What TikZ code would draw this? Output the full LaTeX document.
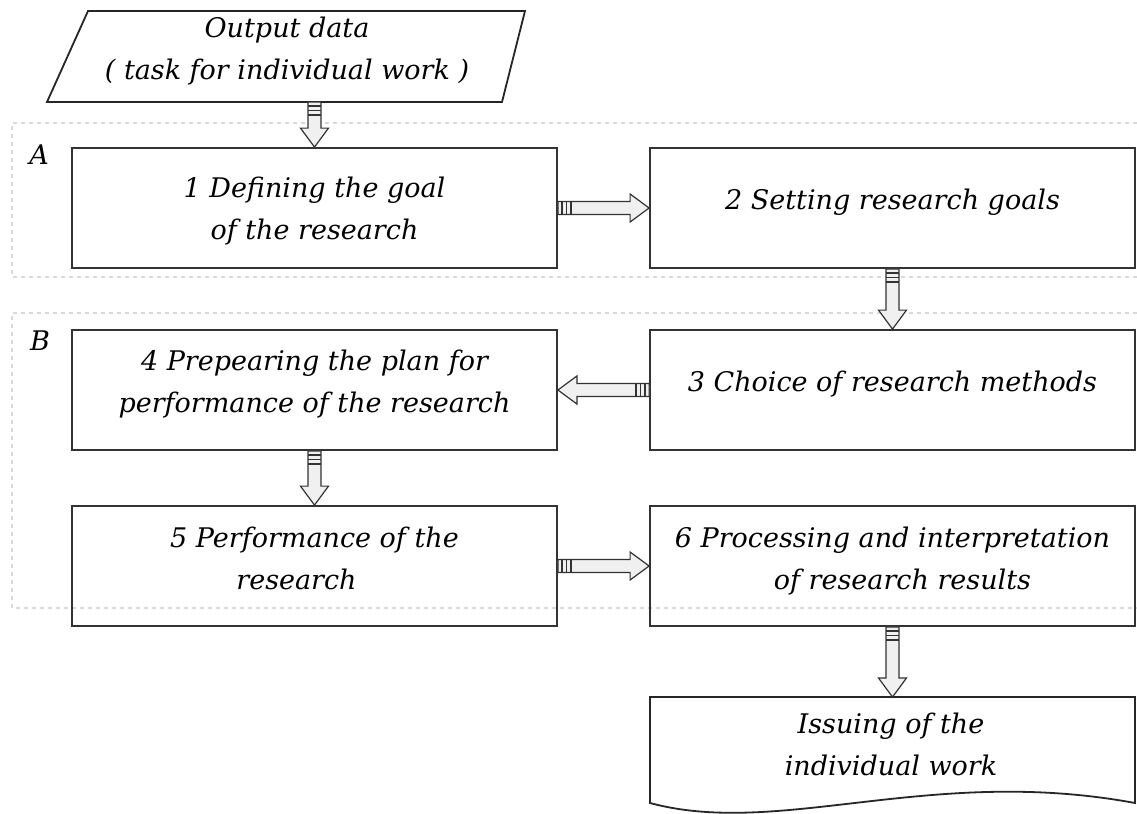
\documentclass[tikz,border=0pt]{standalone}
\usepackage{fontspec}
\setmainfont{DejaVu Serif}
\usetikzlibrary{calc}
\tikzset{
  box/.style={draw=black!80, line width=0.9pt, minimum width=242.5pt, minimum height=60pt, inner sep=0pt},
  txt/.style={font=\fontsize{13.5}{21}\selectfont\itshape, align=center, inner sep=0pt},
  grp/.style={draw=black!15, line width=0.6pt, dash pattern=on 2pt off 2pt},
  blk/.style={draw=black!80, fill=black!6, line width=0.6pt, line join=miter},
  stripe/.style={draw=black!80, line width=0.8pt},
}
\newcommand{\arrdown}[2]{%
  \draw[blk] let \p1=(#1), \p2=(#2) in
    (\x1-3.25pt,\y1) -- (\x1+3.25pt,\y1) -- (\x1+3.25pt,\y2+9.5pt) -- (\x1+7pt,\y2+9.5pt)
    -- (\x1,\y2) -- (\x1-7pt,\y2+9.5pt) -- (\x1-3.25pt,\y2+9.5pt) -- cycle;
  \draw[stripe] let \p1=(#1) in
    (\x1-3.25pt,\y1-2pt) -- (\x1+3.25pt,\y1-2pt)
    (\x1-3.25pt,\y1-4.25pt) -- (\x1+3.25pt,\y1-4.25pt)
    (\x1-3.25pt,\y1-6.5pt) -- (\x1+3.25pt,\y1-6.5pt);
}
\newcommand{\arrright}[2]{%
  \draw[blk] let \p1=(#1), \p2=(#2) in
    (\x1,\y1-3.25pt) -- (\x2-9.5pt,\y1-3.25pt) -- (\x2-9.5pt,\y1-7pt) -- (\x2,\y1)
    -- (\x2-9.5pt,\y1+7pt) -- (\x2-9.5pt,\y1+3.25pt) -- (\x1,\y1+3.25pt) -- cycle;
  \draw[stripe] let \p1=(#1) in
    (\x1+2pt,\y1-3.25pt) -- (\x1+2pt,\y1+3.25pt)
    (\x1+4.25pt,\y1-3.25pt) -- (\x1+4.25pt,\y1+3.25pt)
    (\x1+6.5pt,\y1-3.25pt) -- (\x1+6.5pt,\y1+3.25pt);
}
\newcommand{\arrleft}[2]{%
  \draw[blk] let \p1=(#1), \p2=(#2) in
    (\x1,\y1-3.25pt) -- (\x2+9.5pt,\y1-3.25pt) -- (\x2+9.5pt,\y1-7pt) -- (\x2,\y1)
    -- (\x2+9.5pt,\y1+7pt) -- (\x2+9.5pt,\y1+3.25pt) -- (\x1,\y1+3.25pt) -- cycle;
  \draw[stripe] let \p1=(#1) in
    (\x1-2pt,\y1-3.25pt) -- (\x1-2pt,\y1+3.25pt)
    (\x1-4.25pt,\y1-3.25pt) -- (\x1-4.25pt,\y1+3.25pt)
    (\x1-6.5pt,\y1-3.25pt) -- (\x1-6.5pt,\y1+3.25pt);
}
\begin{document}
\begin{tikzpicture}[x=0.5pt, y=-0.5pt]
\useasboundingbox[fill=white] (0,0) rectangle (1137,814);

% groups
\draw[grp] (1137,123) -- (12,123) -- (12,277) -- (1137,277);
\draw[grp] (1137,313) -- (12,313) -- (12,608) -- (1137,608);
\node[txt] (lA) at (39,155) {A};
\node[txt] (lB) at (40,341) {B};

% input parallelogram
\draw[draw=black!85, line width=0.9pt] (88,11) -- (525,11) -- (502,102) -- (47,102) -- cycle;
\node[txt] (tin) at (287,51) {Output data\\( task for individual work )};
\coordinate (pin) at (314.5,102);

% boxes
\node[box] (b1) at (314.5,208) {};
\node[box] (b2) at (892.5,208) {};
\node[box] (b3) at (892.5,390) {};
\node[box] (b4) at (314.5,390) {};
\node[box] (b5) at (314.5,566) {};
\node[box] (b6) at (892.5,566) {};

\node[txt] (t1) at ($(b1.center)+(0,3)$) {1 Defining the goal\\of the research};
\node[txt] (t2) at ($(b2.center)+(0,-6)$) {2 Setting research goals};
\node[txt] (t3) at ($(b3.center)+(0,-6)$) {3 Choice of research methods};
\node[txt] (t4) at ($(b4.center)+(0,-6)$) {4 Prepearing the plan for\\performance of the research};
\node[txt] (t5) at ($(b5.center)+(0,-8)$) {5 Performance of the\\research\hspace*{18pt}};
\node[txt] (t6) at ($(b6.center)+(0,-5)$) {6 Processing and interpretation\\\hspace*{10pt}of research results};

% document
\draw[draw=black!85, line width=0.9pt] (650,697) -- (1135,697) -- (1135,803)
  .. controls (930,765) and (780,838) .. (650,803) -- cycle;
\coordinate (dtop) at (892.5,697);
\node[txt] (td) at (891,744) {Issuing of the\\individual work};

% arrows
\arrdown{pin}{b1.north}
\arrright{b1.east}{b2.west}
\arrdown{b2.south}{b3.north}
\arrleft{b3.west}{b4.east}
\arrdown{b4.south}{b5.north}
\arrright{b5.east}{b6.west}
\arrdown{b6.south}{dtop}
\end{tikzpicture}
\end{document}
